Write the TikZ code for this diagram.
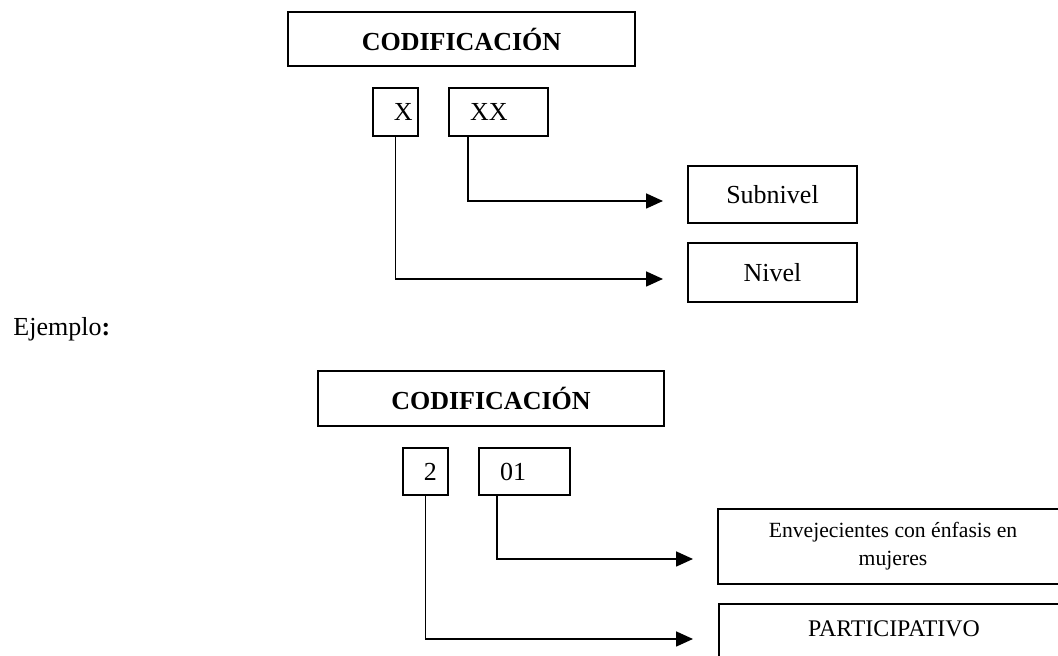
\documentclass[tikz,border=0pt]{standalone}
\usepackage{fontspec}
\setmainfont{Liberation Serif}
\usetikzlibrary{arrows.meta,calc}

\begin{document}
\begin{tikzpicture}[x=0.4615pt, y=-0.4615pt, inner sep=1mm, >={Triangle[length=7.8pt,width=6.9pt]},
  box/.style={draw, line width=0.9pt, font=\fontsize{12}{14}\selectfont},
  cell/.style={box, minimum height=22pt, inner xsep=9.7pt, align=left},
  link/.style={->, line width=0.7pt}]
\useasboundingbox (0,0) rectangle (1058,656);
% esquema general
\node (cod) at (461.5,39) [box, minimum width=160.1pt, minimum height=24.9pt] {\textbf{CODIFICACIÓN}};
\node (x) at (395.5,112) [cell, text width=1.4pt] {X};
\node (xx) at (498.5,112) [cell, text width=26.3pt] {XX};
\node (sub) at (772.5,194.5) [box, minimum width=78pt, minimum height=26.3pt] {Subnivel};
\node (niv) at (772.5,272.5) [box, minimum width=78pt, minimum height=27.2pt] {Nivel};
\coordinate (tsub) at (663,201);
\coordinate (tniv) at (663,279);
\draw[link] ($(xx.south west)+(20,0)$) |- (tsub);
\draw[link] (x.south) |- (tniv);
% ejemplo
\node (ej) at (13,336) [anchor=base west, inner sep=0pt, font=\fontsize{12}{14}\selectfont] {Ejemplo\textbf{:}};
\node (cod2) at (491,398.5) [box, minimum width=159.7pt, minimum height=25.4pt] {\textbf{CODIFICACIÓN}};
\node (dos) at (425.5,471.5) [cell, text width=1.4pt, minimum height=21.7pt] {2};
\node (uno) at (524.5,471.5) [cell, text width=22.6pt, minimum height=21.7pt] {01};
\node (env) at (893,546.5) [box, minimum width=161.5pt, minimum height=34.6pt, align=center,
  font=\fontsize{10}{13}\selectfont] {Envejecientes con énfasis en\\mujeres};
\node (par) at (718,603) [box, anchor=north west, minimum width=161.5pt, inner ysep=0pt,
  text height=14.8pt, text depth=30pt, font=\fontsize{11}{13}\selectfont] {PARTICIPATIVO};
\coordinate (tenv) at (693,559);
\coordinate (tpar) at (693,639);
\draw[link] ($(uno.south west)+(19,0)$) |- (tenv);
\draw[link] (dos.south) |- (tpar);
\end{tikzpicture}
\end{document}
